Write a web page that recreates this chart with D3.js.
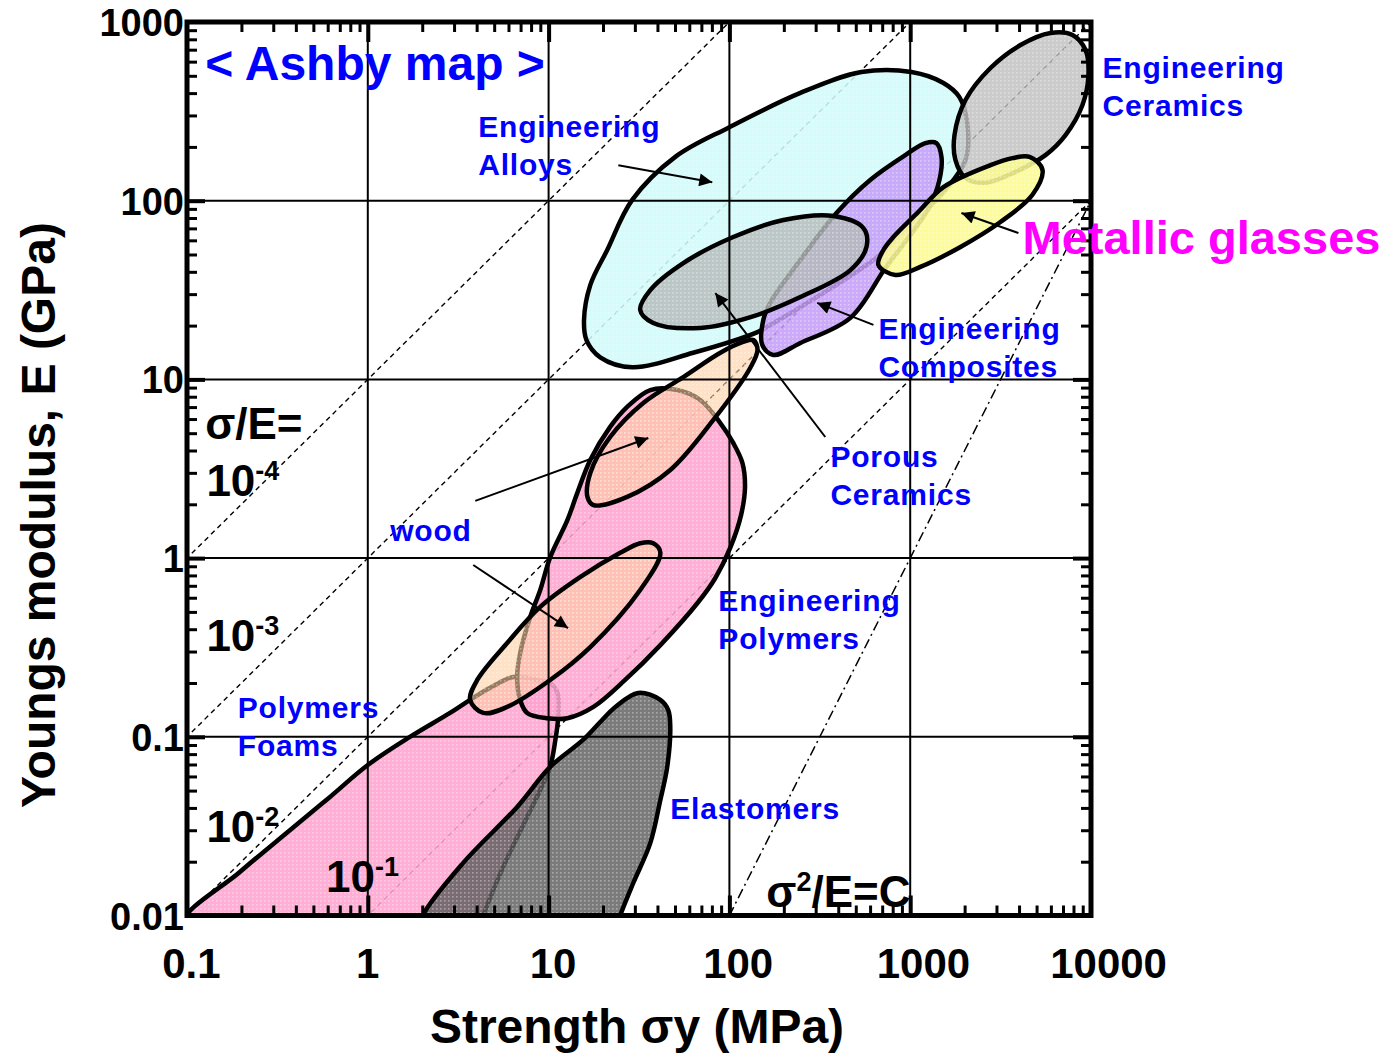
<!DOCTYPE html>
<html><head><meta charset="utf-8">
<script src="https://cdn.jsdelivr.net/npm/d3@7"></script>
<style>
body{margin:0;background:#fff;}
svg{display:block;font-family:"Liberation Sans",Arial,sans-serif;font-weight:bold;}
</style>
</head><body>
<svg id="chart" width="1394" height="1055"></svg>
<script>
// ---------- axis ticks ----------
const xTicks = [0.1, 1, 10, 100, 1000, 10000];
const xTickLabels = ["0.1", "1", "10", "100", "1000", "10000"];
const yTicks = [0.01, 0.1, 1, 10, 100, 1000];
const yTickLabels = ["0.01", "0.1", "1", "10", "100", "1000"];

// ---------- material regions : [strength σy (MPa), modulus E (GPa)] ----------
const polymerFoams = [[0.0975,0.0092],[0.196,0.0175],[0.372,0.0301],[0.618,0.0461],[1.0,0.0695],[1.71,0.0998],[2.85,0.136],[3.68,0.161],[4.75,0.188],[6.37,0.216],[8.65,0.208],[10.2,0.200],[11.2,0.176],[11.3,0.129],[10.9,0.0960],[10.2,0.0678],[8.99,0.0504],[7.61,0.0356],[5.61,0.0187],[4.35,0.0100],[4.2,0.0090]];
const elastomers = [[2.02,0.0100],[3.37,0.0197],[6.70,0.0405],[10.2,0.0678],[15.5,0.0960],[19.3,0.121],[23.4,0.147],[31.3,0.176],[41.5,0.161],[45.9,0.141],[47.1,0.1135],[45.3,0.0678],[41.5,0.0443],[36.5,0.0254],[29.4,0.0152],[24.9,0.0100],[24.0,0.0088],[2.0,0.0088]];
const engPolymers = [[36.5,8.72],[51.5,8.72],[69.0,7.67],[89.1,5.70],[105,4.41],[118,3.41],[122,2.50],[116,1.74],[101,1.14],[83.6,0.774],[67.3,0.568],[41.5,0.326],[26.5,0.208],[17.7,0.147],[12.7,0.127],[9.83,0.127],[7.61,0.136],[6.96,0.161],[6.70,0.216],[6.96,0.294],[7.91,0.468],[8.99,0.663],[10.2,1.01],[12.7,1.63],[14.4,2.31],[17.0,3.54],[21.9,5.42],[27.2,7.01]];
const woodUpper = [[136,16.6],[143,14.6],[131,11.7],[81.5,5.93],[47.1,3.11],[27.2,2.20],[17.7,1.98],[16.4,2.20],[17.0,2.99],[21.9,4.76],[33.4,7.38],[55.6,10.3],[89.1,14.1],[119,16.2]];
const woodLower = [[32.1,1.21],[37.9,1.21],[41.5,1.07],[32.1,0.663],[17.0,0.318],[10.2,0.208],[5.90,0.147],[4.35,0.136],[3.68,0.161],[4.03,0.208],[5.90,0.335],[8.99,0.533],[15.0,0.784],[24.9,1.07]];
const engAlloys = [[15.7,21.5],[17.0,33.7],[21.1,53.0],[29.0,101],[50.2,176],[100,258],[247,401],[537,525],[1016,525],[1527,456],[1872,380],[2074,265],[2022,169],[1567,115],[1003,73.1],[658,48.4],[318,29.7],[162,19.7],[143,18.4],[63.1,14.1],[29.0,11.7],[19.3,13.3],[16.2,16.6]];
const engCeramics = [[5970,868],[7900,846],[9330,697],[9680,505],[8970,343],[7230,233],[5600,180],[3820,145],[2610,126],[2022,134],[1778,169],[1758,233],[2022,366],[2780,553],[4074,743]];
const engComposites = [[1396,210],[1489,176],[1452,131],[1277,92.2],[1003,64.3],[729,42.0],[467,22.1],[247,16.0],[175,13.7],[152,15.6],[154,21.5],[168,26.8],[247,46.6],[391,85.3],[603,131],[940,180],[1213,210]];
const porousCeramics = [[32.1,24.5],[37.9,20.7],[69.0,19.4],[131,22.3],[247,28.9],[467,40.9],[573,55.1],[551,70.3],[376,82.1],[199,78.0],[105,62.6],[55.6,44.8],[36.5,31.6]];
const metallicGlasses = [[4570,176],[5390,149],[4745,108],[3155,76.0],[1897,55.1],[1138,42.6],[828,38.4],[667,43.7],[711,53.0],[807,62.6],[1110,86.5],[1527,119],[2780,158],[3680,173]];

// ---------- guide lines ----------
const ratioValues = [1e-4, 1e-3, 1e-2, 1e-1];       // σ/E (same units)
const resilienceC = 1e6;                             // σ²/E = C  (MPa²/GPa)

// ---------- annotations ----------
const arrows = [
  [[24.3,158],[80.4,127]],      // alloys
  [[3970,65.9],[1920,85.3]],    // metallic glasses
  [[626,20.2],[306,26.8]],      // composites
  [[339,4.76],[83.6,30.4]],     // porous ceramics
  [[3.93,2.09],[35.6,4.70]],    // wood 1
  [[3.83,0.915],[12.8,0.406]]   // wood 2
];
const blueLabels = [
  {lines:["Engineering","Alloys"], at:[4.08,227]},
  {lines:["Engineering","Ceramics"], at:[11580,486]},
  {lines:["Engineering","Composites"], at:[667,16.8]},
  {lines:["Porous","Ceramics"], at:[362,3.24]},
  {lines:["wood"], at:[1.33,1.25]},
  {lines:["Engineering","Polymers"], at:[86.9,0.506]},
  {lines:["Polymers","Foams"], at:[0.191,0.127]},
  {lines:["Elastomers"], at:[47.1,0.0347]}
];
const ratioLabels = [
  {base:"σ/E=", sup:"", at:[0.126,4.64]},
  {base:"10", sup:"-4", at:[0.128,2.23]},
  {base:"10", sup:"-3", at:[0.128,0.302]},
  {base:"10", sup:"-2", at:[0.128,0.0258]},
  {base:"10", sup:"-1", at:[0.588,0.01353]},
  {base:"σ", sup:"2", tail:"/E=C", at:[160,0.01116]}
];

// ---------- scales ----------
const svg = d3.select("#chart");
const x = d3.scaleLog().domain([0.1, 10000]).range([187, 1091]);
const y = d3.scaleLog().domain([0.01, 1000]).range([915.5, 22]);

const defs = svg.append("defs");
defs.append("clipPath").attr("id","plotClip").append("rect")
  .attr("x", x(0.1)).attr("y", y(1000))
  .attr("width", x(10000)-x(0.1)).attr("height", y(0.01)-y(1000));
const pat = defs.append("pattern").attr("id","dots").attr("patternUnits","userSpaceOnUse")
  .attr("width",4).attr("height",4);
pat.append("rect").attr("x",0).attr("y",0).attr("width",1.6).attr("height",1.6).attr("fill","#fff").attr("opacity",0.35);
defs.append("marker").attr("id","arrowHead").attr("viewBox","0 0 10 10")
  .attr("refX",10).attr("refY",5).attr("markerUnits","userSpaceOnUse")
  .attr("markerWidth",17).attr("markerHeight",13).attr("orient","auto")
  .append("path").attr("d","M0,0 L10,5 L0,10 z").attr("fill","#000");

const plot = svg.append("g").attr("clip-path","url(#plotClip)");

// guide lines (under regions)
const straight = d3.line().x(d=>x(d[0])).y(d=>y(d[1]));
ratioValues.forEach(r=>{
  const pts = [[0.01, 0.01/(r*1000)], [1e5, 1e5/(r*1000)]];
  plot.append("path").attr("d", straight(pts)).attr("fill","none")
    .attr("stroke","#000").attr("stroke-width",1.4).attr("stroke-dasharray","5,4");
});
plot.append("path").attr("d", straight([[10, 100/resilienceC],[1e5, 1e10/resilienceC]]))
  .attr("fill","none").attr("stroke","#000").attr("stroke-width",1.5)
  .attr("stroke-dasharray","10,4,2,4");

// regions
const blob = d3.line().x(d=>x(d[0])).y(d=>y(d[1])).curve(d3.curveCatmullRomClosed.alpha(0.5));
const regions = [
  {pts:polymerFoams, fill:"#ffa3d0", op:0.88},
  {pts:elastomers, fill:"#5e5e5e", op:0.82},
  {pts:engPolymers, fill:"#ffa3d0", op:0.88},
  {pts:woodUpper, fill:"#ffcda0", op:0.6},
  {pts:woodLower, fill:"#ffcda0", op:0.6},
  {pts:engAlloys, fill:"#cffafa", op:0.88},
  {pts:engCeramics, fill:"#c0c0c0", op:0.82},
  {pts:engComposites, fill:"#c59cf8", op:0.86},
  {pts:porousCeramics, fill:"#b4b9b9", op:0.82},
  {pts:metallicGlasses, fill:"#fcfa90", op:0.88}
];
regions.forEach(r=>{
  const d = blob(r.pts);
  plot.append("path").attr("d",d).attr("fill",r.fill).attr("fill-opacity",r.op);
  plot.append("path").attr("d",d).attr("fill","url(#dots)");
  plot.append("path").attr("d",d).attr("fill","none").attr("stroke","#000")
    .attr("stroke-width",4.5).attr("stroke-linejoin","round");
});

// grid lines (on top)
const gx = xTicks.slice(1,-1), gy = yTicks.slice(1,-1);
plot.selectAll(".vg").data(gx).enter().append("line")
  .attr("x1",d=>x(d)).attr("x2",d=>x(d)).attr("y1",y(1000)).attr("y2",y(0.01))
  .attr("stroke","#000").attr("stroke-width",2);
plot.selectAll(".hg").data(gy).enter().append("line")
  .attr("y1",d=>y(d)).attr("y2",d=>y(d)).attr("x1",x(0.1)).attr("x2",x(10000))
  .attr("stroke","#000").attr("stroke-width",2);

// ticks
const minorX = [], minorY = [];
[0.1,1,10,100,1000].forEach(dec=>{ for(let k=2;k<=9;k++) minorX.push(k*dec); });
[0.01,0.1,1,10,100].forEach(dec=>{ for(let k=2;k<=9;k++) minorY.push(k*dec); });
function tickAxis(gen, tr, vals, size, w){
  const g = svg.append("g").attr("transform",tr)
    .call(gen.tickValues(vals).tickSize(size).tickSizeOuter(0).tickFormat(""));
  g.select(".domain").remove();
  g.selectAll("line").attr("stroke","#000").attr("stroke-width",w);
}
[[minorX,10,3],[gx,20,4]].forEach(([v,s,w])=>{
  tickAxis(d3.axisTop(x), `translate(0,${y(0.01)})`, v, s, w);
  tickAxis(d3.axisBottom(x), `translate(0,${y(1000)})`, v, s, w);
});
[[minorY,10,3],[gy,18,4]].forEach(([v,s,w])=>{
  tickAxis(d3.axisRight(y), `translate(${x(0.1)},0)`, v, s, w);
  tickAxis(d3.axisLeft(y), `translate(${x(10000)},0)`, v, s, w);
});
svg.append("rect").attr("x",x(0.1)).attr("y",y(1000))
  .attr("width",x(10000)-x(0.1)).attr("height",y(0.01)-y(1000))
  .attr("fill","none").attr("stroke","#000").attr("stroke-width",5);

// tick labels
svg.selectAll(".xl").data(xTicks).enter().append("text")
  .attr("x",(d,i)=>x(d)+(xTickLabels[i].replace(".","").length-1)*4.4)
  .attr("y",y(0.01)+62).attr("text-anchor","middle").attr("font-size",42)
  .text((d,i)=>xTickLabels[i]);
svg.selectAll(".yl").data(yTicks).enter().append("text")
  .attr("x",x(0.1)-3).attr("y",d=>y(d)+14).attr("text-anchor","end").attr("font-size",38)
  .text((d,i)=>yTickLabels[i]);

// axis titles
svg.append("text").attr("x",637).attr("y",1043).attr("text-anchor","middle")
  .attr("font-size",48).text("Strength σy (MPa)");
svg.append("text").attr("transform","translate(55,515) rotate(-90)").attr("text-anchor","middle")
  .attr("font-size",48).text("Youngs modulus, E (GPa)");

// arrows
arrows.forEach(a=>{
  svg.append("line").attr("x1",x(a[0][0])).attr("y1",y(a[0][1]))
    .attr("x2",x(a[1][0])).attr("y2",y(a[1][1]))
    .attr("stroke","#000").attr("stroke-width",2).attr("marker-end","url(#arrowHead)");
});

// blue labels
blueLabels.forEach(l=>{
  const t = svg.append("text").attr("x",x(l.at[0])).attr("y",y(l.at[1]))
    .attr("fill","#0000ff").attr("font-size",30).attr("letter-spacing",0.8);
  l.lines.forEach((s,i)=>t.append("tspan").attr("x",x(l.at[0])).attr("dy",i?38:0).text(s));
});

// title & metallic glasses
svg.append("text").attr("x",x(0.126)).attr("y",y(473)).attr("fill","#0000ff")
  .attr("font-size",48).text("< Ashby map >");
svg.append("text").attr("x",x(4180)).attr("y",y(50.3)).attr("fill","#ff00ff")
  .attr("font-size",47).text("Metallic glasses");

// ratio labels
ratioLabels.forEach(l=>{
  const t = svg.append("text").attr("x",x(l.at[0])).attr("y",y(l.at[1]))
    .attr("fill","#000").attr("font-size",44);
  t.append("tspan").text(l.base);
  if(l.sup) t.append("tspan").attr("font-size",27).attr("dy",-16).text(l.sup);
  if(l.tail) t.append("tspan").attr("dy",16).text(l.tail);
});
</script>
</body></html>
